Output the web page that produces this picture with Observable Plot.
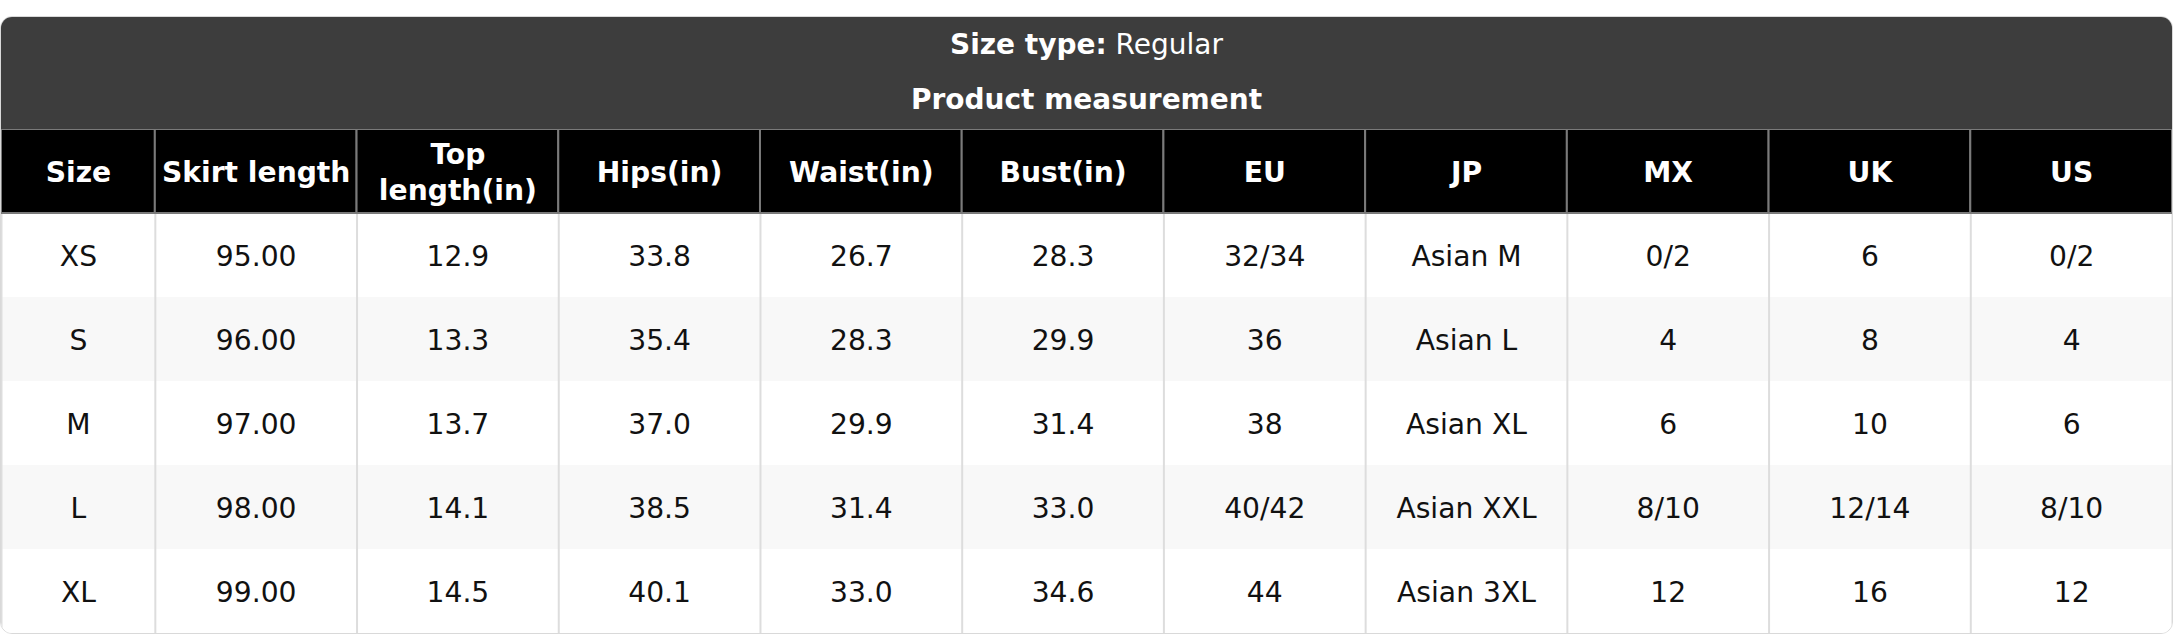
<!DOCTYPE html>
<html>
<head>
<meta charset="utf-8">
<script src="https://cdn.jsdelivr.net/npm/d3@7"></script>
<script src="https://cdn.jsdelivr.net/npm/@observablehq/plot@0.6"></script>
<style>
  html, body { margin: 0; padding: 0; background: #fff; font-family: "DejaVu Sans", sans-serif; }
  #card {
    position: absolute; left: 0; top: 16px; width: 2173px;
    box-sizing: border-box; border: 1px solid #d9d9d9; border-radius: 12px;
    overflow: hidden; background: #fff;
  }
  #title {
    background: #3d3d3d; color: #fff; height: 112px; box-sizing: border-box;
    padding-top: 8.5px; text-align: center; font-size: 28px;
  }
  #title .l1 { line-height: 38px; }
  #title .l2 { line-height: 38px; margin-top: 17px; font-weight: bold; }
  #chart svg { display: block; }
</style>
</head>
<body>
<div id="card">
  <div id="title">
    <div class="l1"><b>Size type:</b> Regular</div>
    <div class="l2">Product measurement</div>
  </div>
  <div id="chart"></div>
</div>
<script>
// ---- data ----
const headers = ["Size", "Skirt length", "Top\nlength(in)", "Hips(in)", "Waist(in)", "Bust(in)", "EU", "JP", "MX", "UK", "US"];
const sizes = ["XS", "S", "M", "L", "XL"];
const skirtLength = [95.00, 96.00, 97.00, 98.00, 99.00];
const topLength = [12.9, 13.3, 13.7, 14.1, 14.5];
const hips = [33.8, 35.4, 37.0, 38.5, 40.1];
const waist = [26.7, 28.3, 29.9, 31.4, 33.0];
const bust = [28.3, 29.9, 31.4, 33.0, 34.6];
const eu = ["32/34", "36", "38", "40/42", "44"];
const jp = ["Asian M", "Asian L", "Asian XL", "Asian XXL", "Asian 3XL"];
const mx = ["0/2", "4", "6", "8/10", "12"];
const uk = ["6", "8", "10", "12/14", "16"];
const us = ["0/2", "4", "6", "8/10", "12"];

// ---- layout ----
const colWeights = [0.7626, 1, 1, 1, 1, 1, 1, 1, 1, 1, 1];
const W = 2171, H = 504;
const FS = 28.2;

const total = d3.sum(colWeights);
const starts = [0, ...d3.cumsum(colWeights)];
const cols = headers.map((h, i) => ({name: h, x1: starts[i], x2: starts[i + 1], xc: (starts[i] + starts[i + 1]) / 2}));
const rows = sizes.map((s, r) => [
  s, skirtLength[r].toFixed(2), topLength[r].toFixed(1), hips[r].toFixed(1),
  waist[r].toFixed(1), bust[r].toFixed(1), eu[r], jp[r], mx[r], uk[r], us[r]
]);
const cells = rows.flatMap((vals, r) => cols.map((c, j) => ({...c, row: sizes[r], r, text: vals[j]})));
const bodyLines = sizes.flatMap(s => starts.map(x => ({x, row: s})));
const HEADER = "__header";

const chart = Plot.plot({
  width: W, height: H, margin: 0,
  style: {fontFamily: "DejaVu Sans", background: "transparent"},
  x: {domain: [0, total], range: [0, W], axis: null},
  y: {type: "band", domain: [HEADER, ...sizes], range: [0, H], padding: 0, axis: null},
  color: {type: "identity"},
  marks: [
    Plot.barX(cells, {x1: "x1", x2: "x2", y: "row", fill: d => d.r % 2 ? "#f8f8f8" : "#ffffff", inset: 0}),
    Plot.tickX(bodyLines, {x: "x", y: "row", stroke: "#dddddd", strokeWidth: 2}),
    Plot.barX(cols, {x1: "x1", x2: "x2", y: () => HEADER, fill: "#000000", stroke: "#7a7a7a", strokeWidth: 2, inset: 0}),
    Plot.text(cols, {x: "xc", y: () => HEADER, text: "name", fill: "#ffffff", fontWeight: "bold", fontSize: FS, lineHeight: 1.28, dy: -1, fontFamily: "DejaVu Sans"}),
    Plot.text(cells, {x: "xc", y: "row", text: "text", fill: "#111111", fontSize: FS, dy: 1.5, fontFamily: "DejaVu Sans"})
  ]
});
document.getElementById("chart").appendChild(chart);
</script>
</body>
</html>
